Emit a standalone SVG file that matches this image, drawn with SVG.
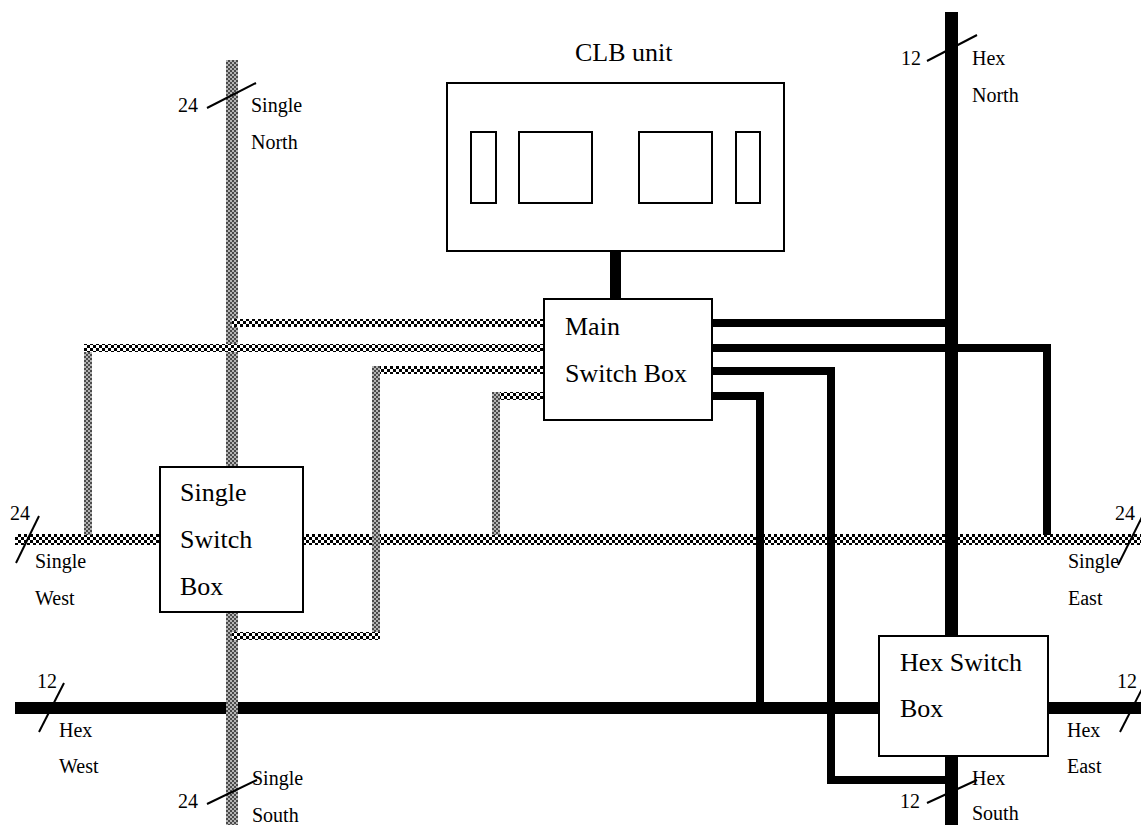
<svg xmlns="http://www.w3.org/2000/svg" width="1141" height="825" viewBox="0 0 1141 825">
<style>
.lbl{font-family:"Liberation Serif","Times New Roman",serif;font-size:20px;fill:#000}
.big{font-family:"Liberation Serif","Times New Roman",serif;font-size:26px;fill:#000}
.box{fill:#fff;stroke:#000;stroke-width:2}
.inner{fill:none;stroke:#000;stroke-width:2}
.wire{fill:none;stroke:#000;stroke-width:8;stroke-linejoin:miter}
.slash{stroke:#000;stroke-width:2;fill:none}
</style>
<defs>
<pattern id="chkH" width="6" height="6" patternUnits="userSpaceOnUse"><rect width="6" height="6" fill="#fff"/><rect width="3" height="3" fill="#000"/><rect x="3" y="3" width="3" height="3" fill="#000"/></pattern>
<pattern id="chkV" width="4" height="4" patternUnits="userSpaceOnUse"><rect width="4" height="4" fill="#b4b4b4"/><rect width="2" height="2" fill="#4a4a4a"/><rect x="2" y="2" width="2" height="2" fill="#4a4a4a"/></pattern>
</defs>
<rect width="1141" height="825" fill="#fff"/>
<g id="buses">
<rect x="15" y="534" width="1126" height="11" fill="url(#chkH)"/>
<rect x="15" y="702" width="1126" height="12" fill="#000"/>
<rect x="226" y="60" width="12" height="765" fill="url(#chkV)"/>
<rect x="945" y="12" width="13" height="813" fill="#000"/>
</g>
<g id="connectors">
<rect x="610" y="251" width="11" height="48" fill="#000"/>
<rect x="232" y="319" width="312" height="8" fill="url(#chkH)"/>
<rect x="84" y="344" width="8" height="191" fill="url(#chkV)"/>
<rect x="84" y="344" width="460" height="8" fill="url(#chkH)"/>
<rect x="372" y="366" width="172" height="8" fill="url(#chkH)"/>
<rect x="372" y="366" width="8" height="274" fill="url(#chkV)"/>
<rect x="232" y="632" width="148" height="8" fill="url(#chkH)"/>
<rect x="492" y="392" width="52" height="8" fill="url(#chkH)"/>
<rect x="492" y="392" width="8" height="143" fill="url(#chkV)"/>
<path class="wire" d="M712 323 H945"/>
<path class="wire" d="M712 348 H1047 V535"/>
<path class="wire" d="M712 371 H831 V780 H945"/>
<path class="wire" d="M712 396 H760 V702"/>
</g>
<g id="clb">
<text class="big" x="575" y="61">CLB unit</text>
<rect class="box" x="447" y="83" width="337" height="168"/>
<rect class="inner" x="471" y="132" width="25" height="71"/>
<rect class="inner" x="519" y="132" width="73" height="71"/>
<rect class="inner" x="639" y="132" width="73" height="71"/>
<rect class="inner" x="736" y="132" width="24" height="71"/>
</g>
<g id="main-switch">
<rect class="box" x="544" y="299" width="168" height="121"/>
<text class="big" x="565" y="335">Main</text>
<text class="big" x="565" y="382">Switch Box</text>
</g>
<g id="single-switch">
<rect class="box" x="160" y="467" width="143" height="145"/>
<text class="big" x="180" y="501">Single</text>
<text class="big" x="180" y="548">Switch</text>
<text class="big" x="180" y="595">Box</text>
</g>
<g id="hex-switch">
<rect class="box" x="879" y="636" width="169" height="120"/>
<text class="big" x="900" y="671">Hex Switch</text>
<text class="big" x="900" y="717">Box</text>
</g>
<g id="labels">
<text class="lbl" x="178" y="112">24</text>
<line class="slash" x1="207" y1="108" x2="256" y2="83"/>
<text class="lbl" x="251" y="112">Single</text>
<text class="lbl" x="251" y="149">North</text>
<text class="lbl" x="901" y="65">12</text>
<line class="slash" x1="927" y1="61" x2="977" y2="35"/>
<text class="lbl" x="972" y="65">Hex</text>
<text class="lbl" x="972" y="102">North</text>
<text class="lbl" x="10" y="520">24</text>
<line class="slash" x1="16" y1="563" x2="39" y2="516"/>
<text class="lbl" x="35" y="568">Single</text>
<text class="lbl" x="35" y="605">West</text>
<text class="lbl" x="1115" y="520">24</text>
<line class="slash" x1="1118" y1="565" x2="1143" y2="515"/>
<text class="lbl" x="1068" y="568">Single</text>
<text class="lbl" x="1068" y="605">East</text>
<text class="lbl" x="37" y="688">12</text>
<line class="slash" x1="39" y1="732" x2="64" y2="683"/>
<text class="lbl" x="59" y="737">Hex</text>
<text class="lbl" x="59" y="773">West</text>
<text class="lbl" x="1117" y="688">12</text>
<line class="slash" x1="1120" y1="732" x2="1145" y2="683"/>
<text class="lbl" x="1067" y="737">Hex</text>
<text class="lbl" x="1067" y="773">East</text>
<text class="lbl" x="178" y="808">24</text>
<line class="slash" x1="207" y1="804" x2="257" y2="780"/>
<text class="lbl" x="252" y="785">Single</text>
<text class="lbl" x="252" y="822">South</text>
<text class="lbl" x="900" y="808">12</text>
<line class="slash" x1="927" y1="803" x2="977" y2="780"/>
<text class="lbl" x="972" y="785">Hex</text>
<text class="lbl" x="972" y="820">South</text>
</g>
</svg>
